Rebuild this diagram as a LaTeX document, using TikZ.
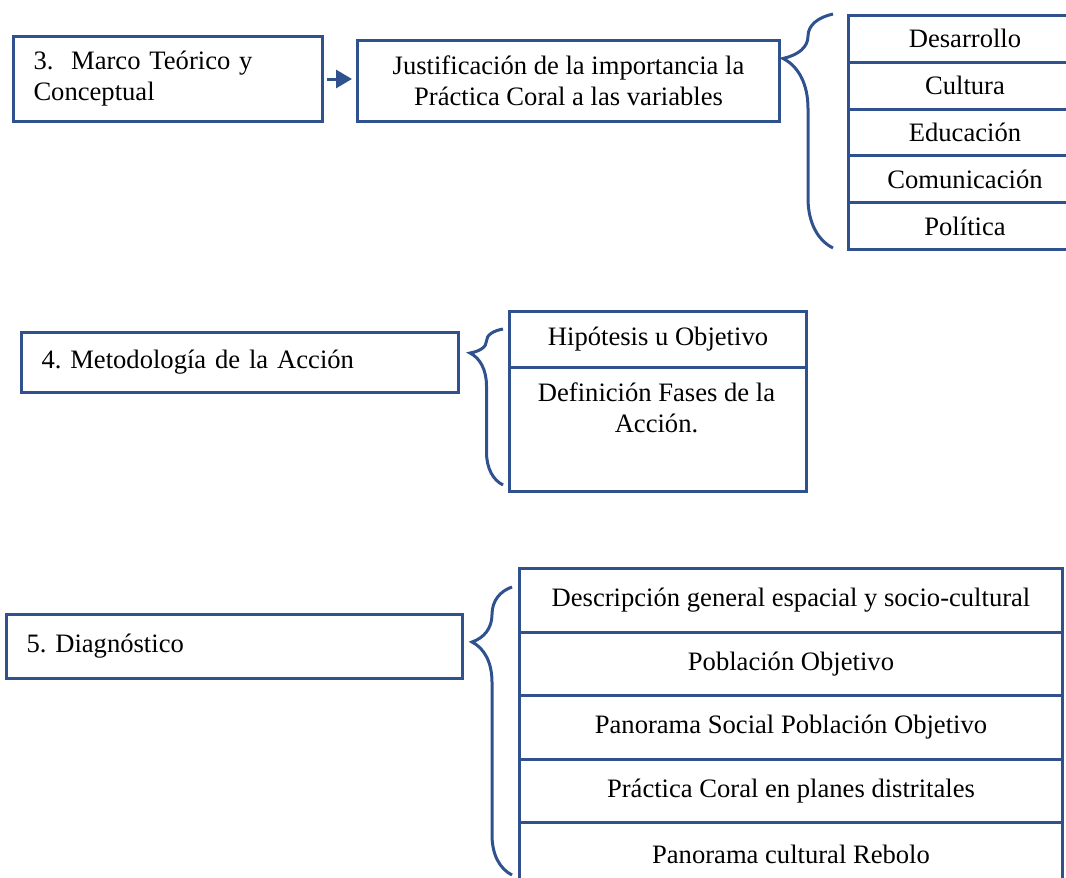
\documentclass[tikz,border=0pt]{standalone}
\usepackage{fontspec}
\setmainfont{Liberation Serif}
\usetikzlibrary{arrows.meta,decorations.pathreplacing}
\definecolor{azul}{RGB}{47,82,143}
\def\px{0.5pt}
\frenchspacing
\tikzset{
  caja/.style={draw=azul,line width=1.5pt,rectangle,inner sep=0pt,
    font=\fontsize{13.3pt}{15.5pt}\selectfont},
  texto/.style={inner sep=0pt,font=\fontsize{13.3pt}{15.5pt}\selectfont},
  llave/.style={draw=azul,line width=1.5pt,decorate,
    decoration={brace,amplitude=#1}},
  flecha/.style={draw=azul,line width=1.5pt,-{Triangle[length=8pt,width=9pt]}},
}
\begin{document}
\begin{tikzpicture}[x=0.5pt,y=-0.5pt]
\useasboundingbox (0,0) rectangle (1066,878);
\clip (0,0) rectangle (1066,878);

%% 3. Marco teorico
\node[caja,anchor=north west,align=left,text width=269*\px,inner xsep=20*\px,
  minimum height=85*\px] (marco) at (12,35) {3.\ \ Marco Teórico y\\Conceptual};
\node[caja,anchor=north west,align=center,minimum width=422*\px,
  minimum height=81*\px] (just) at (356,39)
  {Justificación de la importancia la\\Práctica Coral a las variables};
\draw[flecha,shorten <=1.5pt,shorten >=2pt] (marco.east) -- (marco.east -| just.west);

\foreach \t [count=\i] in {Desarrollo,Cultura,Educación,Comunicación,Política}{
   \node[caja,anchor=north west,minimum width=233*\px,minimum height=46.8*\px]
     (var\i) at (847,{14+(\i-1)*46.8}) {\t};
}
\coordinate (l1a) at (833,248);
\coordinate (l1b) at (833,14);
\draw[llave=25pt,decoration={aspect=0.81}] (l1a) -- (l1b);

%% 4. Metodologia
\node[caja,anchor=north west,align=left,text width=397*\px,inner xsep=20*\px,
  minimum height=60*\px] (metodo) at (20,331) {4. Metodología de la Acción};
\node[caja,anchor=north west,minimum width=297*\px,minimum height=56*\px]
  (hipo) at (508,310) {Hipótesis u Objetivo};
\node[caja,anchor=north west,minimum width=297*\px,minimum height=124*\px]
  (fases) at (508,366) {};
\node[texto,align=center] (fasestxt) at (656.5,408) {Definición Fases de la\\Acción.};
\coordinate (l2a) at (503,485);
\coordinate (l2b) at (503,329);
\draw[llave=16.5pt,decoration={aspect=0.846}] (l2a) -- (l2b);

%% 5. Diagnostico
\node[caja,anchor=north west,align=left,text width=416*\px,inner xsep=20*\px,
  minimum height=64*\px] (diag) at (5,613) {5. Diagnóstico};
\foreach \t [count=\i] in {Descripción general espacial y socio-cultural,
   Población Objetivo,Panorama Social Población Objetivo,
   Práctica Coral en planes distritales,Panorama cultural Rebolo}{
   \node[caja,anchor=north west,minimum width=543*\px,minimum height=63.6*\px]
     (diag\i) at (518,{567+(\i-1)*63.6}) {\t};
}
\coordinate (l3a) at (512,875);
\coordinate (l3b) at (512,587);
\draw[llave=20pt,decoration={aspect=0.809}] (l3a) -- (l3b);

\end{tikzpicture}
\end{document}
